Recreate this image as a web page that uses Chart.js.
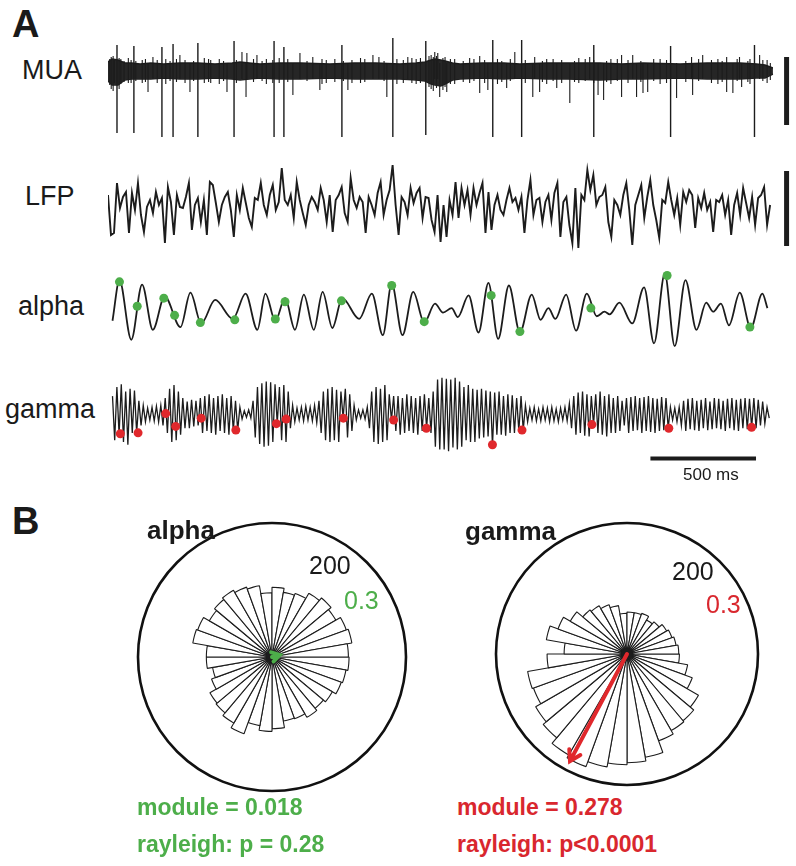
<!DOCTYPE html>
<html>
<head>
<meta charset="utf-8">
<script src="https://cdn.jsdelivr.net/npm/chart.js@4.4.1/dist/chart.umd.min.js"></script>
<style>
  body { margin: 0; background: #fff; font-family: "Liberation Sans", Arial, sans-serif; color: #1a1a1a; }
  #fig { position: relative; width: 796px; height: 866px; overflow: hidden; }
  canvas, .t { position: absolute; }
  .t { white-space: nowrap; line-height: 1; }
  .b { font-weight: bold; }
  .g { color: #4dae4a; }
  .r { color: #d9272e; }
</style>
</head>
<body>
<div id="fig">
  <canvas id="c-mua" width="688" height="115" style="left:108px;top:30px"></canvas>
  <canvas id="c-lfp" width="688" height="105" style="left:108px;top:150px"></canvas>
  <canvas id="c-alpha" width="688" height="94" style="left:108px;top:262px"></canvas>
  <canvas id="c-gamma" width="688" height="110" style="left:108px;top:365px"></canvas>
  <canvas id="c-rose-alpha" width="276" height="276" style="left:134px;top:519px"></canvas>
  <canvas id="c-rose-gamma" width="270" height="270" style="left:492px;top:519px"></canvas>

  <div class="t b" style="left:12px;top:5px;font-size:38px">A</div>
  <div class="t" style="left:22px;top:57px;font-size:27px">MUA</div>
  <div class="t" style="left:25px;top:183px;font-size:27px">LFP</div>
  <div class="t" style="left:18px;top:293px;font-size:27px">alpha</div>
  <div class="t" style="left:5px;top:396px;font-size:27px">gamma</div>
  <div class="t" style="left:683px;top:466px;font-size:17px">500 ms</div>

  <div class="t b" style="left:12px;top:502px;font-size:38px">B</div>
  <div class="t b" style="left:147px;top:517px;font-size:26px">alpha</div>
  <div class="t b" style="left:465px;top:518px;font-size:26px">gamma</div>
  <div class="t" style="left:309px;top:553px;font-size:25px">200</div>
  <div class="t g" style="left:344px;top:588px;font-size:25px">0.3</div>
  <div class="t" style="left:672px;top:559px;font-size:25px">200</div>
  <div class="t r" style="left:706px;top:592px;font-size:25px">0.3</div>
  <div class="t b g" style="left:137px;top:796px;font-size:23px">module = 0.018</div>
  <div class="t b g" style="left:137px;top:833px;font-size:23px">rayleigh: p = 0.28</div>
  <div class="t b r" style="left:457px;top:796px;font-size:23px">module = 0.278</div>
  <div class="t b r" style="left:457px;top:833px;font-size:23px">rayleigh: p&lt;0.0001</div>
</div>

<script>
'use strict';

const INK = '#1c1c1c';
const GREEN = '#4dae4a';
const RED = '#e0282c';
const X_MAX = 3215;            // ms shown across each trace canvas

// ---- MUA: background band envelope (time ms, upper / lower) ----
const muaBandT = [0, 19, 47, 79, 110, 150, 200, 260, 336, 420, 500, 580, 617, 660, 710, 800, 900, 1037, 1150, 1250,
  1364, 1440, 1481, 1510, 1528, 1555, 1575, 1610, 1645, 1750, 1850, 1925, 2050, 2150, 2299, 2400, 2500, 2673, 2800,
  2953, 3030, 3070, 3107];
const muaBandHi = [9, 12, 11, 8, 8, 7, 8, 7, 8, 8, 7, 8, 9, 8, 7, 8, 8, 7, 8, 8,
  7, 8, 9, 11, 12, 11, 10, 8, 7, 8, 8, 7, 8, 8, 8, 7, 8, 7, 8,
  8, 7, 6, 3];
const muaBandLo = [-10, -14, -14, -9, -8, -8, -8, -7, -8, -8, -7, -8, -9, -8, -7, -8, -8, -7, -8, -8,
  -8, -9, -10, -13, -14, -15, -13, -9, -8, -7, -8, -7, -8, -8, -9, -8, -8, -7, -8,
  -8, -7, -7, -3];

// big units (these are the spike times marked on alpha / gamma)
const spikeT = [42, 121, 252, 304, 420, 589, 776, 822, 1093, 1331, 1485, 1798, 1933, 2270, 2629, 3021];
const spikeLo = [-62, -62, -66, -66, -66, -66, -66, -66, -66, -66, -64, -66, -66, -66, -66, -66];
const spikeHi = [26, 25, 24, 27, 28, 30, 30, 24, 26, 33, 30, 31, 31, 26, 25, 26];

// smaller threshold crossings
const muaMidT = [60, 95, 160, 187, 210, 270, 336, 383, 450, 520, 556, 626, 645, 649, 696, 740, 800, 864, 897, 957,
  990, 1000, 1121, 1180, 1238, 1266, 1303, 1350, 1401, 1420, 1527, 1541, 1550, 1583, 1620, 1690, 1737, 1775, 1820,
  1863, 1901, 1985, 1994, 2017, 2050, 2097, 2158, 2200, 2251, 2290, 2316, 2350, 2400, 2452, 2470, 2500, 2522, 2580,
  2657, 2727, 2732, 2779, 2850, 2891, 2920, 2951, 2961, 3000, 3045, 3080];
const muaMidLo = [-13, -12, -12, -21, -8, -13, -8, -21, -12, -13, -21, -8, -26, -8, -8, -13, -12, -24, -8, -8,
  -19, -13, -19, -12, -8, -8, -26, -13, -8, -12, -8, -8, -26, -21, -13, -12, -22, -19, -13,
  -17, -8, -26, -8, -21, -13, -17, -32, -12, -8, -24, -29, -13, -26, -8, -26, -22, -21, -13,
  -27, -8, -24, -8, -13, -21, -22, -8, -16, -13, -8, -12];
const muaMidHi = [12, 13, 11, 8, 14, 12, 16, 8, 13, 12, 8, 19, 8, 18, 16, 12, 13, 8, 18, 14,
  8, 12, 8, 13, 16, 14, 8, 12, 14, 13, 19, 18, 8, 8, 12, 13, 15, 8, 12,
  8, 19, 8, 14, 8, 12, 8, 8, 13, 14, 8, 8, 12, 16, 16, 8, 8, 8, 12,
  8, 14, 8, 16, 12, 14, 8, 14, 8, 12, 16, 11];

// background noise excursions that roughen the band
const muaSmallT = [8, 15, 24, 30, 52, 75, 108, 130, 175, 230, 290, 320, 360, 400, 470, 480, 540, 600, 680, 720,
  770, 840, 930, 1020, 1060, 1100, 1140, 1200, 1290, 1380, 1440, 1460, 1500, 1510, 1520, 1535, 1565, 1575, 1600,
  1660, 1710, 1760, 1840, 1880, 1950, 2030, 2080, 2120, 2180, 2230, 2270, 2330, 2380, 2430, 2490, 2550, 2610, 2700,
  2760, 2820, 2870, 2940, 2990, 3060, 3095];
const muaSmallLo = [-14, -18, -20, -12, -18, -11, -12, -10, -11, -12, -10, -11, -12, -10, -11, -12, -10, -12, -11, -10,
  -12, -11, -10, -12, -11, -10, -12, -11, -10, -12, -13, -12, -16, -18, -20, -17, -19, -16, -13,
  -11, -10, -12, -11, -10, -12, -11, -10, -12, -11, -10, -12, -11, -10, -12, -11, -10, -12, -11,
  -10, -12, -11, -10, -11, -10, -9];
const muaSmallHi = [12, 14, 15, 11, 13, 10, 11, 10, 12, 11, 10, 12, 11, 10, 12, 11, 10, 11, 12, 10,
  11, 12, 10, 11, 12, 10, 11, 12, 10, 11, 12, 13, 15, 16, 14, 15, 13, 14, 12,
  10, 12, 11, 10, 12, 11, 10, 12, 11, 10, 12, 11, 10, 12, 11, 10, 12, 11, 10,
  12, 11, 10, 12, 10, 11, 8];

// ---- LFP, sampled every 14 ms ----
const LFP_DT = 14;
const lfp = [
  10, -30, -28, 22, -3, 8, 13, -28, 12, -5,
  22, -10, -27, -2, 5, -8, 13, 0, 7, -38,
  18, 3, -30, 10, -2, -3, 8, 22, -25, 0,
  7, -17, 5, -30, 23, 20, 2, -17, 0, 8,
  13, -5, -32, 10, -5, 17, 2, -13, -22, 7,
  5, 22, 0, -10, 10, 20, -5, 3, 37, 5,
  0, 10, -13, 23, 5, -8, -20, 0, 8, 3,
  -5, 17, 5, -17, 10, -27, 5, 10, 18, -8,
  -17, 27, 5, -3, 8, 3, -28, 8, 0, -10,
  12, 23, -10, 5, 15, 40, 0, -30, 8, 3,
  -10, 17, 2, 12, 17, -13, 8, 7, -15, -27,
  10, -37, 0, -32, 5, -10, 23, -13, 17, 0,
  15, -10, 17, 0, 12, 22, -28, 13, -25, 0,
  10, -5, -10, 5, 17, 3, 7, -5, 8, -28,
  5, 25, -10, 5, 7, -17, 3, 10, -15, 12,
  22, -32, 3, 8, -20, -38, 17, -43, 10, 5,
  35, 15, 30, 0, 8, 10, 18, -17, -32, 5,
  0, -10, 10, 22, -5, -40, 0, 10, 20, -13,
  8, 25, 0, -15, -33, 5, 2, 23, 5, -10,
  7, -20, 13, 3, 15, 10, -23, 7, -3, 12,
  -5, 3, -27, 5, 3, 10, -10, 5, -30, 0,
  12, -10, 17, 2, -13, 8, -20, 7, 10, 18,
  -20, 0];

// ---- alpha band: peaks and troughs (ms, value) ----
const alphaT = [0, 33, 89, 140, 191, 247, 322, 369, 420, 486, 570, 630, 686, 724, 771,
  817, 864, 906, 953, 995, 1041, 1088, 1168, 1228, 1280, 1322, 1373, 1424, 1476, 1527, 1565,
  1606, 1635, 1686, 1733, 1780, 1826, 1877, 1929, 1985, 2027, 2064, 2097, 2148, 2195, 2246, 2293, 2330, 2354,
  2400, 2461, 2517, 2564, 2615, 2662, 2713, 2765, 2811, 2844, 2881, 2919, 2970, 3022, 3077, 3101];
const alphaV = [-12, 33, -33, 28, -22, 15, -19, 19, -15, 11, -10, 18, -22, 18, -12,
  13, -22, 17, -22, 20, -20, 13, -10, 18, -28, 29, -28, 20, -14, 7, -3,
  2, -8, 16, -25, 30, -32, 27, -25, 17, -11, 2, -10, 17, -23, 18, -7, -2, -5,
  8, -15, 25, -37, 40, -40, 33, -22, 8, -2, 7, -17, 19, -20, 18, 2];
const alphaDotT = [33, 117, 243, 294, 416, 579, 771, 817, 1084, 1322, 1476, 1793, 1929, 2265, 2626, 3018];
const alphaDotV = [31, 4, 13, -6, -14, -11, -10, 9, 10, 27, -13, 16, -24, 2, 38, -19];

// ---- gamma band, sampled every 10.4 ms ----
const GAMMA_DT = 10.4;
const gamma = [
  20, -28, 30, -22, 33, -30, 25, -33, 28, -20,
  26, -20, 15, -12, 10, -8, 7, -6, 8, -7,
  9, -8, 10, -12, 18, -20, 28, -30, 32, -28,
  25, -22, 18, -15, 14, -15, 16, -13, 15, -12,
  18, -20, 20, -18, 22, -20, 18, -22, 20, -18,
  22, -20, 18, -22, 20, -18, 15, -17, 8, -5,
  4, -3, 5, -4, 15, -25, 30, -32, 34, -35,
  36, -34, 35, -30, 33, -10, 30, -28, 32, -30,
  25, -15, 10, -8, 7, -6, 8, -7, 9, -6,
  8, -7, 10, -9, 15, -20, 25, -28, 28, -30,
  30, -28, 27, -30, 25, -4, 28, -25, 22, -18,
  10, -6, 5, -4, 5, -5, 8, -15, 25, -30,
  30, -32, 28, -30, 32, -28, 22, -6, 20, -18,
  20, -22, 18, -20, 22, -18, 20, -20, 18, -22,
  20, -18, 22, -15, 18, -20, 25, -35, 38, -38,
  40, -38, 39, -40, 38, -36, 40, -38, 36, -35,
  30, -28, 32, -30, 28, -30, 27, -26, 28, -25,
  26, -24, 25, -34, 24, -22, 25, -22, 20, -23,
  22, -20, 21, -20, 18, -18, 20, -17, 10, -8,
  7, -6, 8, -7, 6, -7, 8, -6, 7, -8,
  8, -7, 6, -8, 7, -6, 8, -7, 12, -15,
  20, -22, 24, -20, 25, -23, 22, -24, 20, -11,
  22, -20, 25, -22, 20, -24, 22, -20, 18, -20,
  20, -18, 15, -12, 18, -20, 19, -18, 20, -17,
  18, -20, 19, -18, 20, -19, 18, -20, 17, -18,
  19, -17, 18, -15, 8, -6, 7, -8, 8, -12,
  15, -18, 17, -16, 18, -17, 15, -18, 16, -15,
  18, -17, 14, -16, 18, -15, 17, -16, 15, -18,
  17, -15, 18, -17, 16, -18, 17, -15, 18, -16,
  17, -14, 18, -15, 16, -12, 14, -10, 8, -4];
const gammaDotT = [37, 121, 252, 299, 420, 584, 776, 822, 1093, 1331, 1486, 1799, 1939, 2270, 2634, 3026];
const gammaDotV = [-21, -20, 1, -13, -4, -17, -10, -5, -4, -6, -15, -33, -17, -11, -15, -14];

// scale bars
const MUA_BAR = { t: 3171, lo: -54, hi: 14 };
const LFP_BAR = { t: 3171, lo: -41, hi: 34 };
const TIME_BAR = { start: 2547, ms: 500, level: -48 };

// ---- phase histograms: 36 bins of 10 deg, clockwise from 0 deg (east) ----
const phaseBins = [];
for (let i = 0; i < 36; i++) phaseBins.push(`${-10 * i - 5}°`);
const alphaCounts = [115, 112, 110, 104, 100, 104, 98, 97, 107, 111, 104, 122, 114, 109, 107, 96, 90, 98,
  98, 120, 118, 108, 112, 115, 111, 108, 96, 104, 98, 101, 110, 115, 110, 118, 121, 114];
const gammaCounts = [80, 94, 106, 126, 133, 135, 141, 160, 166, 169, 175, 183, 178, 167, 161, 152, 154, 122,
  96, 125, 112, 100, 88, 85, 80, 75, 62, 64, 64, 66, 60, 64, 70, 73, 76, 79];
const COUNT_MAX = 200;
const MODULE_MAX = 0.3;
const alphaVector = { module: 0.018, angle: 15 };
const gammaVector = { module: 0.278, angle: 242 };

function pts(ts, vs) {
  return ts.map((t, i) => ({ x: t, y: vs[i] }));
}

function sampled(vs, dt) {
  return vs.map((v, i) => ({ x: i * dt, y: v }));
}

function segments(ts, los, his) {
  const out = [];
  ts.forEach((t, i) => {
    out.push({ x: t, y: los[i] }, { x: t, y: his[i] }, { x: t, y: null });
  });
  return out;
}

function traceOptions(yMin, yMax) {
  return {
    responsive: false,
    animation: false,
    events: [],
    layout: { padding: 0 },
    plugins: { legend: { display: false }, tooltip: { enabled: false } },
    scales: {
      x: { type: 'linear', display: false, min: 0, max: X_MAX },
      y: { type: 'linear', display: false, min: yMin, max: yMax },
    },
    elements: { point: { radius: 0 } },
  };
}

function lineSet(data, width, extra) {
  return Object.assign({ data, borderColor: INK, borderWidth: width, pointRadius: 0, spanGaps: false, clip: false }, extra || {});
}

function dotSet(data, color) {
  return { data, showLine: false, pointRadius: 4.5, pointBackgroundColor: color, pointBorderWidth: 0, clip: false };
}

// MUA
new Chart(document.getElementById('c-mua'), {
  type: 'line',
  data: {
    datasets: [
      lineSet(segments(spikeT, spikeLo, spikeHi), 1.4),
      lineSet(segments(muaMidT, muaMidLo, muaMidHi), 1.1),
      lineSet(segments(muaSmallT, muaSmallLo, muaSmallHi), 1.1),
      lineSet(pts(muaBandT, muaBandHi), 1.5, { fill: '+1', backgroundColor: '#262626' }),
      lineSet(pts(muaBandT, muaBandLo), 1.5),
      lineSet([{ x: MUA_BAR.t, y: MUA_BAR.lo }, { x: MUA_BAR.t, y: MUA_BAR.hi }], 5, { borderCapStyle: 'butt' }),
    ],
  },
  options: traceOptions(-74, 41),
});

// LFP
new Chart(document.getElementById('c-lfp'), {
  type: 'line',
  data: {
    datasets: [
      lineSet(sampled(lfp, LFP_DT), 1.9),
      lineSet([{ x: LFP_BAR.t, y: LFP_BAR.lo }, { x: LFP_BAR.t, y: LFP_BAR.hi }], 5, { borderCapStyle: 'butt' }),
    ],
  },
  options: traceOptions(-50, 55),
});

// alpha
new Chart(document.getElementById('c-alpha'), {
  type: 'line',
  data: {
    datasets: [
      dotSet(pts(alphaDotT, alphaDotV), GREEN),
      lineSet(pts(alphaT, alphaV), 1.8, { cubicInterpolationMode: 'monotone' }),
    ],
  },
  options: traceOptions(-46, 48),
});

// gamma
new Chart(document.getElementById('c-gamma'), {
  type: 'line',
  data: {
    datasets: [
      dotSet(pts(gammaDotT, gammaDotV), RED),
      lineSet(sampled(gamma, GAMMA_DT), 1.3),
      lineSet([{ x: TIME_BAR.start, y: TIME_BAR.level }, { x: TIME_BAR.start + TIME_BAR.ms, y: TIME_BAR.level }], 4,
        { borderCapStyle: 'butt' }),
    ],
  },
  options: traceOptions(-61, 49),
});

// mean resultant vector, drawn in the rose's own radial scale
const meanVector = {
  id: 'meanVector',
  afterDatasetsDraw(chart, args, opts) {
    const r = chart.scales.r;
    const ctx = chart.ctx;
    const x0 = r.xCenter, y0 = r.yCenter;
    // hub where the wedge edges converge
    ctx.save();
    ctx.fillStyle = INK;
    ctx.beginPath();
    ctx.arc(x0, y0, opts.hub, 0, Math.PI * 2);
    ctx.fill();
    const len = r.getDistanceFromCenterForValue(opts.module / MODULE_MAX * COUNT_MAX);
    const a = opts.angle * Math.PI / 180;
    const x1 = x0 + Math.cos(a) * len, y1 = y0 - Math.sin(a) * len;
    const head = opts.head, spread = 0.55;
    const back = Math.atan2(y0 - y1, x0 - x1);
    ctx.strokeStyle = opts.color;
    ctx.lineWidth = opts.width;
    ctx.lineCap = 'round';
    ctx.lineJoin = 'miter';
    ctx.beginPath();
    ctx.moveTo(x0, y0);
    ctx.lineTo(x1, y1);
    ctx.moveTo(x1 + Math.cos(back + spread) * head, y1 + Math.sin(back + spread) * head);
    ctx.lineTo(x1, y1);
    ctx.lineTo(x1 + Math.cos(back - spread) * head, y1 + Math.sin(back - spread) * head);
    ctx.stroke();
    ctx.restore();
  },
};

function rose(id, counts, vec, color) {
  return new Chart(document.getElementById(id), {
    type: 'polarArea',
    data: {
      labels: phaseBins,
      datasets: [{ data: counts, backgroundColor: '#ffffff', borderColor: INK, borderWidth: 1.1 }],
    },
    options: {
      responsive: false,
      animation: false,
      events: [],
      layout: { padding: 4 },
      plugins: {
        legend: { display: false },
        tooltip: { enabled: false },
        meanVector: Object.assign({ color, width: 4, head: 12, hub: 6 }, vec),
      },
      scales: {
        r: {
          startAngle: 90,
          min: 0,
          max: COUNT_MAX,
          ticks: { display: false, stepSize: COUNT_MAX },
          grid: { circular: true, color: '#111', lineWidth: 2.6 },
          angleLines: { display: false },
          pointLabels: { display: false },
        },
      },
    },
    plugins: [meanVector],
  });
}

rose('c-rose-alpha', alphaCounts, Object.assign({ head: 9 }, alphaVector), GREEN);
rose('c-rose-gamma', gammaCounts, gammaVector, RED);
</script>
</body>
</html>
